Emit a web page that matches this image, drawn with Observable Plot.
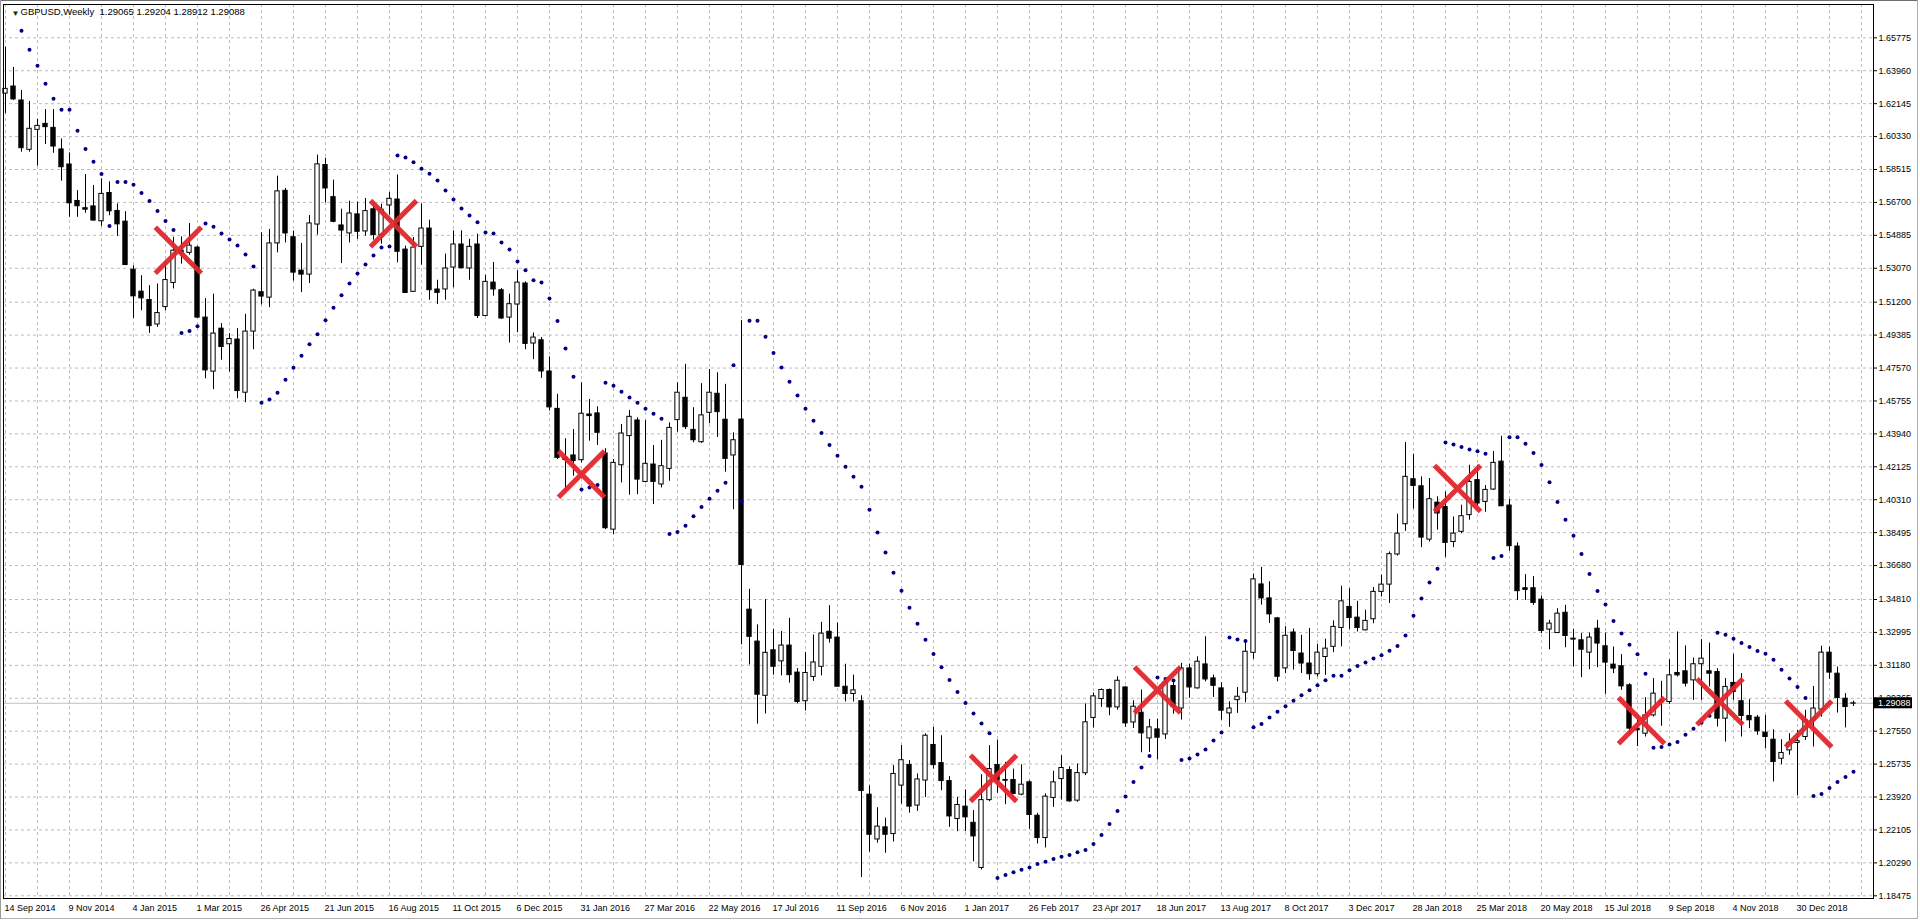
<!DOCTYPE html>
<html><head><meta charset="utf-8">
<script src="https://cdn.jsdelivr.net/npm/d3@7"></script>
<script src="https://cdn.jsdelivr.net/npm/@observablehq/plot@0.6"></script>
<style>html,body{margin:0;padding:0;background:#fff;} svg{display:block}</style>
</head><body><div id="chart"></div>
<script>
// ---- data (GBPUSD weekly, 14 Sep 2014 .. 17 Feb 2019) ----
const symbolTitle = "GBPUSD,Weekly\u00a0\u00a01.29065 1.29204 1.28912 1.29088";
const firstWeek = "14 Sep 2014";
const opens = [1.6270,1.6309,1.6232,1.5960,1.6070,1.6103,1.6081,1.5962,1.5879,1.5678,
1.5638,1.5648,1.5566,1.5722,1.5623,1.5564,1.5299,1.5178,1.5132,1.4997,
1.5093,1.5226,1.5404,1.5392,1.5421,1.5035,1.4737,1.4974,1.4888,1.4914,
1.4621,1.4958,1.5175,1.5145,1.5444,1.5734,1.5478,1.5294,1.5272,1.5548,
1.5876,1.5699,1.5543,1.5499,1.5604,1.5510,1.5632,1.5490,1.5653,1.5686,
1.5410,1.5177,1.5425,1.5526,1.5190,1.5190,1.5311,1.5438,1.5306,1.5438,
1.5044,1.5228,1.5186,1.5035,1.5107,1.5223,1.4892,1.4910,1.4738,1.4532,
1.4262,1.4275,1.4249,1.4501,1.4507,1.4286,1.3866,1.4221,1.4382,1.4468,
1.4129,1.4225,1.4115,1.4201,1.4470,1.4593,1.4416,1.4348,1.4510,1.4615,
1.4472,1.4275,1.4473,1.3425,1.3249,1.2950,1.3201,1.3140,1.3227,1.3078,
1.2920,1.3054,1.3110,1.3303,1.3271,1.3000,1.2960,1.2920,1.2405,1.2158,
1.2225,1.2188,1.2455,1.2569,1.2345,1.2483,1.2679,1.2579,1.2480,1.2271,
1.2339,1.2250,1.2001,1.2375,1.2568,1.2486,1.2486,1.2405,1.2473,1.2289,
1.2166,1.2387,1.2491,1.2541,1.2372,1.2523,1.2828,1.2932,1.2982,1.2886,
1.2996,1.2803,1.2857,1.2715,1.2765,1.2737,1.3004,1.2880,1.3101,1.2991,
1.3123,1.3046,1.2991,1.2853,1.2926,1.2967,1.3187,1.3564,1.3487,1.3377,
1.3101,1.3299,1.3183,1.3128,1.3069,1.3164,1.3220,1.3324,1.3440,1.3381,
1.3311,1.3372,1.3523,1.3563,1.3729,1.3896,1.4144,1.4105,1.3811,1.4015,
1.3991,1.3798,1.3854,1.3946,1.4139,1.4019,1.4087,1.4241,1.3999,1.3773,
1.3543,1.3543,1.3480,1.3315,1.3296,1.3408,1.3265,1.3256,1.3188,1.3320,
1.3223,1.3122,1.3113,1.3008,1.2769,1.2741,1.2842,1.2921,1.2916,1.3076,
1.3085,1.3035,1.3124,1.3085,1.3081,1.2824,1.3021,1.2920,1.2839,1.2830,
1.2747,1.2708,1.2603,1.2649,1.2690,1.2723,1.2815,1.2874,1.3188,1.3072,
1.2934,1.29065];
const highs = [1.6526,1.6414,1.6287,1.6227,1.6127,1.6182,1.6182,1.6020,1.5943,1.5735,
1.5824,1.5763,1.5800,1.5783,1.5662,1.5619,1.5321,1.5266,1.5211,1.5220,
1.5349,1.5478,1.5480,1.5554,1.5429,1.5140,1.5164,1.5002,1.4947,1.4974,
1.5053,1.5191,1.5502,1.5521,1.5815,1.5747,1.5512,1.5444,1.5598,1.5931,
1.5913,1.5793,1.5633,1.5677,1.5672,1.5692,1.5655,1.5660,1.5725,1.5821,
1.5429,1.5477,1.5661,1.5572,1.5241,1.5385,1.5513,1.5513,1.5467,1.5495,
1.5269,1.5339,1.5195,1.5164,1.5293,1.5232,1.4950,1.4925,1.4818,1.4612,
1.4367,1.4418,1.4676,1.4584,1.4543,1.4312,1.4253,1.4446,1.4523,1.4483,
1.4468,1.4330,1.4358,1.4455,1.4676,1.4777,1.4538,1.4671,1.4749,1.4731,
1.4667,1.4400,1.5018,1.3537,1.3341,1.3481,1.3315,1.3305,1.3377,1.3100,
1.3189,1.3285,1.3355,1.3447,1.3351,1.3124,1.3064,1.2950,1.2453,1.2333,
1.2275,1.2565,1.2676,1.2593,1.2519,1.2740,1.2776,1.2730,1.2504,1.2390,
1.2431,1.2317,1.2515,1.2675,1.2706,1.2583,1.2546,1.2570,1.2482,1.2302,
1.2409,1.2534,1.2620,1.2559,1.2574,1.2905,1.2965,1.2988,1.2988,1.3055,
1.3000,1.2923,1.2982,1.2820,1.2820,1.3040,1.3040,1.3129,1.3125,1.3165,
1.3276,1.3064,1.3022,1.2917,1.2996,1.3254,1.3621,1.3658,1.3579,1.3382,
1.3331,1.3318,1.3284,1.3321,1.3234,1.3262,1.3363,1.3554,1.3541,1.3471,
1.3422,1.3547,1.3615,1.3743,1.3951,1.4346,1.4282,1.4157,1.4148,1.4047,
1.4074,1.3936,1.4001,1.4221,1.4221,1.4109,1.4297,1.4381,1.4032,1.3793,
1.3618,1.3607,1.3500,1.3366,1.3430,1.3449,1.3315,1.3293,1.3296,1.3366,
1.3296,1.3219,1.3177,1.3017,1.2830,1.2940,1.3045,1.3030,1.3149,1.3302,
1.3225,1.3158,1.3260,1.3241,1.3100,1.3045,1.3179,1.3072,1.2929,1.2842,
1.2842,1.2763,1.2708,1.2741,1.2760,1.2870,1.3002,1.3223,1.3219,1.3109,
1.2962,1.29204];
const lows = [1.6159,1.6232,1.5947,1.5947,1.5870,1.5989,1.5941,1.5787,1.5588,1.5588,
1.5610,1.5566,1.5538,1.5597,1.5483,1.5321,1.5031,1.5073,1.4948,1.4981,
1.5073,1.5193,1.5330,1.5379,1.5030,1.4698,1.4638,1.4800,1.4735,1.4588,
1.4566,1.4858,1.5105,1.5090,1.5392,1.5447,1.5236,1.5173,1.5223,1.5490,
1.5668,1.5558,1.5333,1.5447,1.5466,1.5484,1.5462,1.5440,1.5600,1.5337,
1.5168,1.5173,1.5324,1.5131,1.5107,1.5131,1.5199,1.5304,1.5241,1.5030,
1.5042,1.5153,1.5026,1.4895,1.4952,1.4858,1.4803,1.4700,1.4520,1.4253,
1.4080,1.4161,1.4234,1.4354,1.4330,1.3866,1.3839,1.4124,1.4056,1.4059,
1.4124,1.4004,1.4096,1.4133,1.4404,1.4418,1.4345,1.4341,1.4450,1.4374,
1.4183,1.3976,1.3231,1.3120,1.2794,1.2850,1.3064,1.3060,1.3020,1.2906,
1.2866,1.3030,1.3060,1.3241,1.3000,1.2916,1.2916,1.1948,1.2088,1.2138,
1.2082,1.2144,1.2353,1.2303,1.2313,1.2389,1.2546,1.2427,1.2225,1.2201,
1.2201,1.2035,1.1990,1.2366,1.2412,1.2350,1.2405,1.2399,1.2214,1.2133,
1.2111,1.2335,1.2375,1.2363,1.2363,1.2510,1.2772,1.2886,1.2840,1.2871,
1.2776,1.2770,1.2636,1.2638,1.2596,1.2709,1.2849,1.2816,1.2936,1.2987,
1.3027,1.2941,1.2816,1.2776,1.2853,1.2912,1.3151,1.3450,1.3349,1.3027,
1.3073,1.3092,1.3073,1.3036,1.3054,1.3063,1.3188,1.3220,1.3315,1.3302,
1.3308,1.3348,1.3495,1.3459,1.3720,1.3857,1.3979,1.3767,1.3798,1.3863,
1.3712,1.3767,1.3844,1.3918,1.3995,1.3962,1.4082,1.3993,1.3747,1.3475,
1.3475,1.3449,1.3293,1.3204,1.3293,1.3215,1.3109,1.3050,1.3094,1.3105,
1.2958,1.3072,1.2980,1.2732,1.2670,1.2723,1.2833,1.2782,1.2903,1.3054,
1.2999,1.2925,1.2925,1.2999,1.2778,1.2695,1.2925,1.2723,1.2769,1.2732,
1.2659,1.2475,1.2570,1.2622,1.2398,1.2704,1.2668,1.2833,1.3041,1.2855,
1.2773,1.28912];
const closes = [1.6296,1.6238,1.5969,1.6076,1.6092,1.6085,1.5978,1.5864,1.5665,1.5649,
1.5630,1.5570,1.5717,1.5621,1.5549,1.5325,1.5152,1.5141,1.4988,1.5060,
1.5242,1.5404,1.5392,1.5432,1.5035,1.4744,1.4947,1.4873,1.4917,1.4630,
1.4958,1.5184,1.5151,1.5444,1.5731,1.5499,1.5283,1.5272,1.5554,1.5880,
1.5747,1.5563,1.5515,1.5609,1.5508,1.5622,1.5490,1.5630,1.5690,1.5398,
1.5171,1.5421,1.5526,1.5186,1.5171,1.5306,1.5438,1.5307,1.5425,1.5044,
1.5232,1.5190,1.5030,1.5109,1.5228,1.4890,1.4925,1.4738,1.4540,1.4262,
1.4250,1.4244,1.4505,1.4492,1.4400,1.3874,1.4234,1.4396,1.4488,1.4142,
1.4229,1.4129,1.4216,1.4427,1.4621,1.4431,1.4359,1.4496,1.4621,1.4514,
1.4256,1.4359,1.3671,1.3275,1.2956,1.3187,1.3110,1.3227,1.3064,1.2916,
1.3076,1.3134,1.3293,1.3265,1.3000,1.2960,1.2980,1.2425,1.2184,1.2229,
1.2184,1.2519,1.2595,1.2339,1.2489,1.2730,1.2568,1.2480,1.2285,1.2348,
1.2280,1.2175,1.2375,1.2546,1.2482,1.2482,1.2409,1.2460,1.2293,1.2166,
1.2394,1.2473,1.2552,1.2368,1.2524,1.2804,1.2947,1.2982,1.2886,1.3033,
1.2798,1.2890,1.2743,1.2776,1.2719,1.3024,1.2890,1.3101,1.2996,1.3138,
1.3040,1.3005,1.2868,1.2880,1.2945,1.3193,1.3592,1.3487,1.3399,1.3055,
1.3281,1.3197,1.3128,1.3069,1.3188,1.3210,1.3330,1.3471,1.3379,1.3324,
1.3363,1.3523,1.3563,1.3731,1.3844,1.4157,1.4107,1.3822,1.4034,1.3955,
1.3793,1.3844,1.3940,1.4129,1.4010,1.4085,1.4234,1.3995,1.3775,1.3527,
1.3534,1.3462,1.3307,1.3348,1.3403,1.3280,1.3260,1.3204,1.3271,1.3238,
1.3133,1.3100,1.3002,1.2769,1.2760,1.2842,1.2962,1.2914,1.3063,1.3063,
1.3017,1.3124,1.3155,1.3072,1.2824,1.2999,1.2971,1.2839,1.2815,1.2754,
1.2723,1.2585,1.2635,1.2690,1.2700,1.2815,1.2880,1.3188,1.3078,1.2938,
1.2888,1.29088];
// Parabolic SAR (null = off the chart)
const sar = [null,null,1.6617,1.6512,1.6423,1.6324,1.6241,1.6181,1.6181,1.6065,
1.5965,1.5894,1.5827,1.5540,1.5783,1.5783,1.5767,1.5722,1.5678,1.5623,
1.5568,1.5518,1.4950,1.4961,1.4987,1.5554,1.5536,1.5499,1.5466,1.5433,
1.5383,1.5317,1.4566,1.4584,1.4621,1.4693,1.4759,1.4825,1.4888,1.4943,
1.5020,1.5090,1.5158,1.5223,1.5278,1.5328,1.5378,1.5421,1.5427,1.5929,
1.5918,1.5891,1.5856,1.5828,1.5791,1.5736,1.5686,1.5637,1.5598,1.5561,
1.5504,1.5499,1.5449,1.5410,1.5344,1.5296,1.5241,1.5228,1.5140,1.5016,
1.4864,1.4709,1.4087,1.4098,1.4112,1.4676,1.4659,1.4626,1.4595,1.4566,
1.4532,1.4505,1.4477,1.3842,1.3853,1.3888,1.3940,1.3991,1.4036,1.4080,
1.4124,1.4773,1.4023,1.5018,1.5018,1.4930,1.4840,1.4760,1.4681,1.4605,
1.4533,1.4467,1.4399,1.4333,1.4273,1.4213,1.4158,1.4102,1.3976,1.3850,
1.3740,1.3629,1.3529,1.3435,1.3347,1.3259,1.3181,1.3107,1.3037,1.2971,
1.2910,1.2853,1.2798,1.2743,1.1945,1.1962,1.1977,1.1991,1.2004,1.2023,
1.2035,1.2050,1.2063,1.2072,1.2087,1.2100,1.2133,1.2183,1.2243,1.2315,
1.2395,1.2475,1.2555,1.2618,1.3051,1.3043,1.3035,1.2596,1.2605,1.2627,
1.2654,1.2704,1.2748,1.3272,1.3261,1.3252,1.2776,1.2794,1.2831,1.2862,
1.2893,1.2923,1.2953,1.2981,1.3008,1.3036,1.3061,1.3061,1.3091,1.3115,
1.3133,1.3155,1.3174,1.3198,1.3225,1.3282,1.3392,1.3486,1.3574,1.3651,
1.4346,1.4335,1.4322,1.4308,1.4298,1.4285,1.3710,1.3721,1.4376,1.4376,
1.4339,1.4289,1.4223,1.4128,1.4019,1.3920,1.3832,1.3732,1.3622,1.3528,
1.3453,1.3362,1.3293,1.3232,1.3179,1.3072,1.2664,1.2668,1.2681,1.2695,
1.2736,1.2769,1.2802,1.2840,1.3298,1.3287,1.3265,1.3241,1.3219,1.3197,
1.3182,1.3149,1.3094,1.3045,1.2999,1.2938,1.2398,1.2409,1.2442,1.2475,
1.2502,1.2532];
// red cross annotations: week offset from first bar, price
const crossWeeks  = [21.6, 48.5, 72.0, 123.5, 144.0, 181.5, 204.5, 214.3, 225.4];
const crossPrices = [1.5406, 1.5553, 1.4172, 1.2495, 1.2982, 1.4093, 1.2813, 1.2917, 1.2794];
const xLabels = ["14 Sep 2014","9 Nov 2014","4 Jan 2015","1 Mar 2015","26 Apr 2015","21 Jun 2015","16 Aug 2015","11 Oct 2015","6 Dec 2015","31 Jan 2016","27 Mar 2016","22 May 2016","17 Jul 2016","11 Sep 2016","6 Nov 2016","1 Jan 2017","26 Feb 2017","23 Apr 2017","18 Jun 2017","13 Aug 2017","8 Oct 2017","3 Dec 2017","28 Jan 2018","25 Mar 2018","20 May 2018","15 Jul 2018","9 Sep 2018","4 Nov 2018","30 Dec 2018"];
const yLabels = ["1.65775","1.63960","1.62145","1.60330","1.58515","1.56700","1.54885","1.53070","1.51200","1.49385","1.47570","1.45755","1.43940","1.42125","1.40310","1.38495","1.36680","1.34810","1.32995","1.31180","1.29365","1.27550","1.25735","1.23920","1.22105","1.20290","1.18475"];

// ---- build ----
const parse = d3.utcParse("%d %b %Y");
const WEEK = 7 * 864e5;
const start = +parse(firstWeek);
const candles = opens.map((o, i) => ({
  i, date: new Date(start + i * WEEK), open: o, high: highs[i], low: lows[i], close: closes[i], sar: sar[i]
}));
const sarPts = candles.filter(d => d.sar != null);
const crosses = crossWeeks.map((w, k) => ({date: new Date(start + w * WEEK), price: crossPrices[k]}));
const xTicks = xLabels.map(parse);
const labelOf = new Map(xLabels.map(s => [+parse(s), s]));
const yTicks = yLabels.map(Number);
const yText = new Map(yLabels.map(s => [Number(s), s]));
const last = candles[candles.length - 1];
const xDomain = [new Date(start - 0.25 * WEEK), new Date(start + (candles.length - 1 + 2.5) * WEEK)];
const gridDates = d3.range(0, candles.length + 3, 4).map(k => new Date(start + k * WEEK)).filter(d => d <= xDomain[1]);
const half = 0.27 * WEEK;
const FONT = "Liberation Sans, Arial, sans-serif";

const chart = Plot.plot({
  width: 1920, height: 921,
  marginLeft: 3, marginRight: 47, marginTop: 4, marginBottom: 23,
  x: {type: "utc", domain: xDomain},
  y: {domain: [1.18326, 1.67611]},
  style: {fontFamily: FONT, fontSize: "9px", background: "white", color: "black", overflow: "visible"},
  marks: [
    Plot.ruleX(gridDates, {stroke: "#bcbcbc", strokeDasharray: "3,3", strokeOpacity: 1}),
    Plot.ruleY(yTicks, {stroke: "#bcbcbc", strokeDasharray: "3,3", strokeOpacity: 1}),
    Plot.ruleY([last.close], {stroke: "#c0c0c0", strokeOpacity: 1}),
    Plot.ruleX(candles, {x: "date", y1: "low", y2: "high", stroke: "black", strokeOpacity: 1}),
    Plot.rect(candles, {
      x1: d => new Date(+d.date - half), x2: d => new Date(+d.date + half),
      y1: "open", y2: "close",
      fill: d => d.close >= d.open ? "white" : "black", stroke: "black", strokeWidth: 1
    }),
    Plot.dot(sarPts, {x: "date", y: "sar", r: 2, fill: "#000080", stroke: "none"}),
    Plot.dot(crosses, {x: "date", y: "price", symbol: "times", r: 21, stroke: "#e1262d", strokeWidth: 5, strokeOpacity: 0.95}),
    Plot.axisY({anchor: "right", ticks: yTicks, tickFormat: d => yText.get(d), tickSize: 3, tickPadding: 2, fontSize: 9, fontFamily: FONT}),
    Plot.axisX({ticks: xTicks, tickFormat: d => labelOf.get(+d), textAnchor: "start", tickSize: 0, tickPadding: 6, dx: -1, fontSize: 9, fontFamily: FONT}),
    Plot.frame({stroke: "black", strokeWidth: 1}),
    Plot.text(["\u25BC"], {frameAnchor: "top-left", dx: 8, dy: 6, fontSize: 8, textAnchor: "start", lineAnchor: "top", fill: "#222"}),
    Plot.text([symbolTitle], {frameAnchor: "top-left", dx: 17, dy: 4, fontSize: 9.5, fontFamily: FONT, textAnchor: "start", lineAnchor: "top", fill: "black"})
  ]
});
document.getElementById("chart").append(chart);

// current price box on the price scale
const ys = chart.scale("y"), xs = chart.scale("x");
const yp = ys.apply(last.close), xr = xs.range[1];
const svg = d3.select(chart);
svg.append("rect").attr("x", xr + 1).attr("y", yp - 5.5).attr("width", 38).attr("height", 11).attr("fill", "black");
svg.append("text").attr("x", xr + 5).attr("y", yp).attr("dy", "0.35em").attr("fill", "white")
  .attr("text-anchor", "start").attr("font-size", 9).attr("font-family", FONT).text(last.close.toFixed(5));
// window border
svg.append("line").attr("x1", 0).attr("x2", 1918).attr("y1", 0.5).attr("y2", 0.5).attr("stroke", "#6e6e6e");
svg.append("line").attr("x1", 1917.5).attr("x2", 1917.5).attr("y1", 0).attr("y2", 919).attr("stroke", "#b0b0b0");
svg.append("line").attr("x1", 0).attr("x2", 1918).attr("y1", 918.5).attr("y2", 918.5).attr("stroke", "#b0b0b0");
svg.append("line").attr("x1", 0.5).attr("x2", 0.5).attr("y1", 0).attr("y2", 919).attr("stroke", "#9a9a9a");
</script></body></html>
